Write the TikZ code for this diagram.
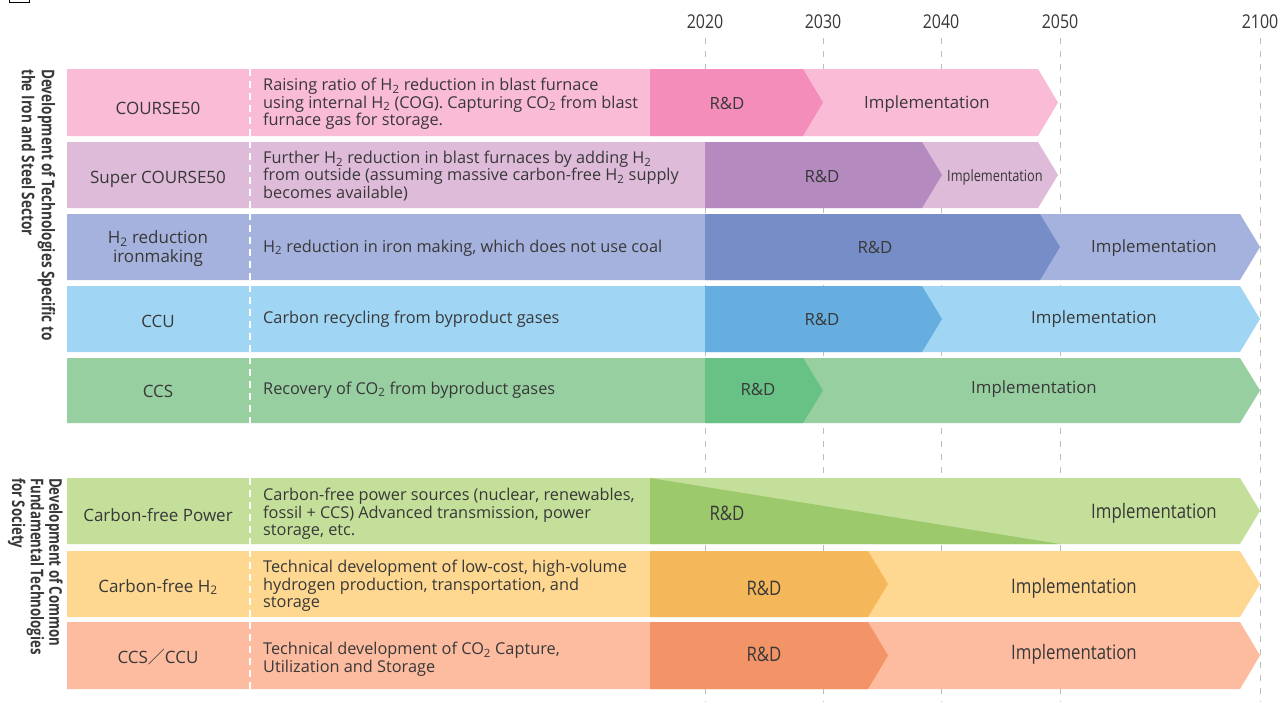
\documentclass[tikz,border=0pt]{standalone}
\usepackage{fontspec}
\usepackage{graphicx}
\setmainfont{Open Sans}
\newfontfamily\cjkfont{Noto Sans CJK JP}
\definecolor{txt}{HTML}{383838}
\definecolor{yline}{HTML}{BDBDBD}
\definecolor{bA}{HTML}{F9BBD5}\definecolor{rA}{HTML}{F48DB9}
\definecolor{bB}{HTML}{DFBBDA}\definecolor{rB}{HTML}{B58ABF}
\definecolor{bC}{HTML}{A5B2DD}\definecolor{rC}{HTML}{768DC7}
\definecolor{bD}{HTML}{A0D6F4}\definecolor{rD}{HTML}{65AEDF}
\definecolor{bE}{HTML}{97CFA1}\definecolor{rE}{HTML}{68C185}
\definecolor{bF}{HTML}{C4DF9A}\definecolor{rF}{HTML}{9CC96C}
\definecolor{bG}{HTML}{FED790}\definecolor{rG}{HTML}{F4B75A}
\definecolor{bH}{HTML}{FDBCA0}\definecolor{rH}{HTML}{F29467}
\newcommand\basearrow[4]{\fill[#4] (67,#1) -- ({#3-20},#1) -- (#3,{(#1+#2)/2}) -- ({#3-20},#2) -- (67,#2) -- cycle;}
\newcommand\rdarrow[5]{\fill[#5] (#3,#1) -- ({#4-20},#1) -- (#4,{(#1+#2)/2}) -- ({#4-20},#2) -- (#3,#2) -- cycle;}
\newcommand\cnd[1]{\scalebox{0.84}[1]{#1}}
\newcommand\sbt[1]{\textsubscript{#1}}
\tikzset{
  every node/.style={text=txt, inner sep=0pt},
  lbl/.style={font=\fontsize{17}{19}\selectfont, align=center},
  desc/.style={font=\fontsize{16.3}{17.5}\selectfont, align=left, anchor=west},
  rdl/.style={font=\fontsize{16.8}{20}\selectfont},
  rdc/.style={font=\fontsize{20}{22}\selectfont},
  yr/.style={font=\fontsize{19}{20}\selectfont},
  vlab/.style={font=\bfseries\fontsize{17.5}{20}\selectfont, align=left, rotate=-90, anchor=north west},
  yrline/.style={draw=yline, line width=1pt, dash pattern=on 6pt off 7pt},
  wdash/.style={draw=white, line width=1.5pt, dash pattern=on 7pt off 5pt}
}
\begin{document}
\begin{tikzpicture}[x=1pt,y=-1pt]
\useasboundingbox (0,0) rectangle (1280,704);
\fill[white] (0,0) rectangle (1280,704);
% top-left mark
\draw[black, line width=1.5pt] (9.5,0) -- (9.5,2.5) -- (29.5,2.5) -- (29.5,0);
% year labels and lines
\foreach \yx/\yl in {705/2020, 823/2030, 941/2040, 1060/2050, 1260/2100}{
  \node[yr] (y\yl) at (\yx,22) {\cnd{\yl}};
  \coordinate (yb\yl) at (\yx,702);
  \draw[yrline] (\yx,38) -- (yb\yl);
}
% rows
\basearrow{69}{136}{1058}{bA}\rdarrow{69}{136}{650}{823}{rA}
\basearrow{142}{208}{1058}{bB}\rdarrow{142}{208}{705}{942}{rB}
\basearrow{214}{280}{1260}{bC}\rdarrow{214}{280}{705}{1060}{rC}
\basearrow{286}{352}{1260}{bD}\rdarrow{286}{352}{705}{942}{rD}
\basearrow{358}{423}{1260}{bE}\rdarrow{358}{423}{705}{823}{rE}
\basearrow{478}{544}{1260}{bF}\fill[rF] (650,478) -- (1060,544) -- (650,544) -- cycle;
\basearrow{551}{617}{1260}{bG}\rdarrow{551}{617}{650}{888}{rG}
\basearrow{622}{689}{1260}{bH}\rdarrow{622}{689}{650}{888}{rH}
% white dashed separators
\draw[wdash] (250,69) -- (250,423);
\draw[wdash] (250,478) -- (250,689);
% vertical group labels
\node[vlab] (g1) at (56,69) {\scalebox{0.775}[1]{\begin{tabular}{@{}l@{}}Development of Technologies Specific to\\the Iron and Steel Sector\end{tabular}}};
\node[vlab, font=\bfseries\fontsize{17.5}{17.5}\selectfont] (g2) at (63,478) {\scalebox{0.755}[1]{\begin{tabular}{@{}l@{}}Development of Common\\Fundamental Technologies\\for Society\end{tabular}}};
% left labels
\node[lbl] (l1) at (158,108) {COURSE50};
\node[lbl] (l2) at (158,179) {Super COURSE50};
\node[lbl] (l3) at (158,249) {H\sbt{2} reduction\\ironmaking};
\node[lbl] (l4) at (158,321) {CCU};
\node[lbl] (l5) at (158,391) {CCS};
\node[lbl] (l6) at (158,515) {Carbon-free Power};
\node[lbl] (l7) at (158,587) {Carbon-free H\sbt{2}};
\node[lbl] (l8) at (158,657) {CCS{\cjkfont ／}CCU};
% descriptions
\node[desc] (d1) at (263,104) {Raising ratio of H\sbt{2} reduction in blast furnace\\using internal H\sbt{2} (COG). Capturing CO\sbt{2} from blast\\furnace gas for storage.};
\node[desc] (d2) at (263,176) {Further H\sbt{2} reduction in blast furnaces by adding H\sbt{2}\\from outside (assuming massive carbon-free H\sbt{2} supply\\becomes available)};
\node[desc] (d3) at (263,248) {H\sbt{2} reduction in iron making, which does not use coal};
\node[desc] (d4) at (263,319) {Carbon recycling from byproduct gases};
\node[desc] (d5) at (263,390) {Recovery of CO\sbt{2} from byproduct gases};
\node[desc] (d6) at (263,514) {Carbon-free power sources (nuclear, renewables,\\fossil + CCS) Advanced transmission, power\\storage, etc.};
\node[desc] (d7) at (263,586) {Technical development of low-cost, high-volume\\hydrogen production, transportation, and\\storage};
\node[desc] (d8) at (263,659) {Technical development of CO\sbt{2} Capture,\\Utilization and Storage};
% R&D / Implementation labels
\node[rdl] (r1) at (727,103) {R\&D};
\node[rdl] (i1) at (927,104) {Implementation};
\node[rdl] (r2) at (822,176) {R\&D};
\node[font=\fontsize{15.6}{18}\selectfont] (i2) at (995,177) {\scalebox{0.82}[1]{Implementation}};
\node[rdl] (r3) at (875,247) {R\&D};
\node[rdl] (i3) at (1154,248) {Implementation};
\node[rdl] (r4) at (822,319) {R\&D};
\node[rdl] (i4) at (1094,319) {Implementation};
\node[rdl] (r5) at (758,389) {R\&D};
\node[rdl] (i5) at (1034,389) {Implementation};
\node[rdc] (r6) at (727,513) {\cnd{R\&D}};
\node[rdc] (i6) at (1154,513) {\cnd{Implementation}};
\node[rdc] (r7) at (764,588) {\cnd{R\&D}};
\node[rdc] (i7) at (1074,588) {\cnd{Implementation}};
\node[rdc] (r8) at (764,654) {\cnd{R\&D}};
\node[rdc] (i8) at (1074,654) {\cnd{Implementation}};
\end{tikzpicture}
\end{document}
